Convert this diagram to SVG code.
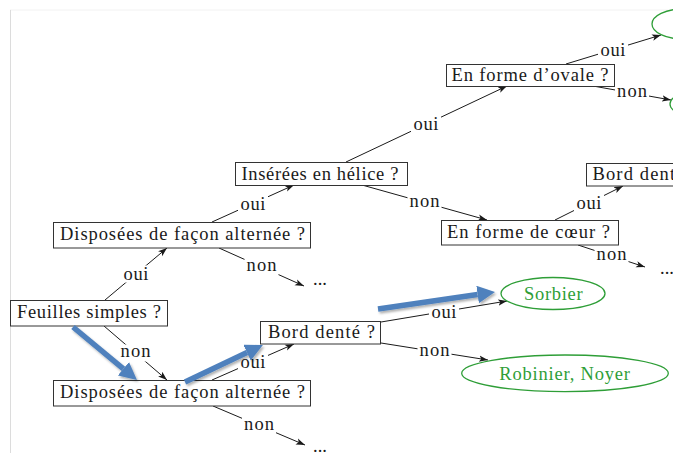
<svg xmlns="http://www.w3.org/2000/svg" width="673" height="453" viewBox="0 0 673 453">
<style>
text{font-family:"Liberation Serif","Times New Roman",serif;font-size:18.5px;fill:#1a1a1a}
.box{fill:#fff;stroke:#333;stroke-width:1}
.leaf{fill:#fff;stroke:#2e9e37;stroke-width:1.3}
.g{fill:#2e9e37}
.c{stroke:#1a1a1a;stroke-width:1;fill:none;marker-end:url(#ah)}
.lb{fill:#fff}
.blue{stroke:#4f81bd;stroke-width:5.5;fill:none;marker-end:url(#bh)}
</style>
<defs>
<marker id="ah" markerUnits="userSpaceOnUse" markerWidth="10" markerHeight="8" refX="9" refY="3.5" orient="auto">
<path d="M0,0.3 L9,3.5 L0,6.7 L2.2,3.5 z" fill="#1a1a1a"/>
</marker>
<marker id="bh" markerUnits="strokeWidth" viewBox="0 0 10 10" markerWidth="3.2" markerHeight="3.2" refX="0" refY="5" orient="auto">
<path d="M0,0 L10,5 L0,10 z" fill="#4f81bd"/>
</marker>
<filter id="sh" x="-20%" y="-20%" width="140%" height="140%">
<feDropShadow dx="1.5" dy="2" stdDeviation="1.2" flood-color="#000" flood-opacity="0.3"/>
</filter>
</defs>
<rect width="673" height="453" fill="#fff"/>
<line x1="10" y1="10" x2="673" y2="10" stroke="#f2f2f2" stroke-width="1"/>
<line x1="10.5" y1="10" x2="10.5" y2="453" stroke="#dcdcdc" stroke-width="1"/>

<g id="connectors">
<line class="c" x1="105" y1="300" x2="167" y2="248"/>
<line class="c" x1="104" y1="326" x2="167" y2="380"/>
<line class="c" x1="212" y1="222" x2="294" y2="185"/>
<line class="c" x1="219" y1="248" x2="304" y2="286"/>
<line class="c" x1="346" y1="162" x2="507" y2="86"/>
<line class="c" x1="362" y1="185" x2="487" y2="220"/>
<line class="c" x1="566" y1="64" x2="661" y2="35"/>
<line class="c" x1="593" y1="86" x2="671" y2="100"/>
<line class="c" x1="555" y1="220" x2="623" y2="186"/>
<line class="c" x1="578" y1="245" x2="645" y2="267"/>
<line class="c" x1="212" y1="380" x2="294" y2="344"/>
<line class="c" x1="213" y1="406" x2="305" y2="445"/>
<line class="c" x1="381" y1="322" x2="507" y2="301"/>
<line class="c" x1="381" y1="343" x2="488" y2="360"/>
<g id="labels">
<rect class="lb" x="121" y="265.5" width="30" height="17"/><text x="136" y="280" text-anchor="middle" textLength="25">oui</text>
<rect class="lb" x="118.5" y="344.5" width="34" height="17"/><text x="135.5" y="357" text-anchor="middle" textLength="30">non</text>
<rect class="lb" x="238" y="195" width="30" height="17"/><text x="253" y="209.5" text-anchor="middle" textLength="25">oui</text>
<rect class="lb" x="244.5" y="258.5" width="34" height="17"/><text x="261.5" y="271" text-anchor="middle" textLength="30">non</text>
<rect class="lb" x="411" y="115.5" width="30" height="17"/><text x="426" y="130" text-anchor="middle" textLength="25">oui</text>
<rect class="lb" x="407.5" y="194" width="34" height="17"/><text x="424.5" y="206.5" text-anchor="middle" textLength="30">non</text>
<rect class="lb" x="598" y="41" width="30" height="17"/><text x="613" y="55.5" text-anchor="middle" textLength="25">oui</text>
<rect class="lb" x="615" y="84.5" width="34" height="17"/><text x="632" y="97" text-anchor="middle" textLength="30">non</text>
<rect class="lb" x="574" y="194.5" width="30" height="17"/><text x="589" y="209" text-anchor="middle" textLength="25">oui</text>
<rect class="lb" x="594.5" y="247.5" width="34" height="17"/><text x="611.5" y="260" text-anchor="middle" textLength="30">non</text>
<rect class="lb" x="238" y="353.5" width="30" height="17"/><text x="253" y="368" text-anchor="middle" textLength="25">oui</text>
<rect class="lb" x="242" y="417" width="34" height="17"/><text x="259" y="429.5" text-anchor="middle" textLength="30">non</text>
<rect class="lb" x="429" y="303" width="30" height="17"/><text x="444" y="317.5" text-anchor="middle" textLength="25">oui</text>
<rect class="lb" x="417.5" y="343" width="34" height="17"/><text x="434.5" y="355.5" text-anchor="middle" textLength="30">non</text>
</g>
</g>

<g id="n-feuilles"><rect class="box" x="10.5" y="300.5" width="157" height="25.5"/><text x="89" y="318" text-anchor="middle" textLength="144">Feuilles simples ?</text></g>
<g id="n-disp-haut"><rect class="box" x="53.5" y="222.5" width="257" height="25.5"/><text x="182.5" y="240" text-anchor="middle" textLength="245">Disposées de façon alternée ?</text></g>
<g id="n-disp-bas"><rect class="box" x="53.5" y="380.5" width="257" height="25.5"/><text x="182.5" y="398" text-anchor="middle" textLength="245">Disposées de façon alternée ?</text></g>
<g id="n-helice"><rect class="box" x="235.5" y="162.5" width="172" height="23"/><text x="320" y="179.5" text-anchor="middle" textLength="157">Insérées en hélice ?</text></g>
<g id="n-ovale"><rect class="box" x="446.5" y="64.5" width="168" height="22"/><text x="530" y="80.5" text-anchor="middle" textLength="157">En forme d’ovale ?</text></g>
<g id="n-coeur"><rect class="box" x="441.5" y="220.5" width="177" height="24.5"/><text x="528.5" y="238" text-anchor="middle" textLength="163">En forme de cœur ?</text></g>
<g id="n-bord-bas"><rect class="box" x="260.5" y="321.5" width="120" height="22.5"/><text x="321.5" y="338" text-anchor="middle" textLength="107">Bord denté ?</text></g>
<g id="n-bord-haut"><rect class="box" x="586.5" y="163.5" width="120" height="22.5"/><text x="592.5" y="180" textLength="107">Bord denté ?</text></g>
<g id="n-sorbier"><ellipse class="leaf" cx="553" cy="293.5" rx="52" ry="16"/><text class="g" x="553.3" y="299.5" text-anchor="middle" textLength="58.7">Sorbier</text></g>
<g id="n-robinier"><ellipse class="leaf" cx="565" cy="373.3" rx="103.3" ry="18.3"/><text class="g" x="564.6" y="379.5" text-anchor="middle" textLength="130.7">Robinier, Noyer</text></g>
<g id="n-feuille-1"><ellipse class="leaf" cx="683" cy="24" rx="31" ry="15"/></g>
<g id="n-feuille-2"><ellipse class="leaf" cx="710" cy="104" rx="40" ry="15"/></g>
<g id="n-dots-1"><text x="313" y="285">...</text></g>
<g id="n-dots-2"><text x="660" y="274">...</text></g>
<g id="n-dots-3"><text x="313" y="452">...</text></g>

<g id="highlight" filter="url(#sh)">
<line class="blue" x1="73" y1="327" x2="123.4" y2="368.8"/>
<line class="blue" x1="185" y1="382" x2="247" y2="352.6"/>
<line class="blue" x1="378" y1="309" x2="477.6" y2="294.5"/>
</g>
</svg>
